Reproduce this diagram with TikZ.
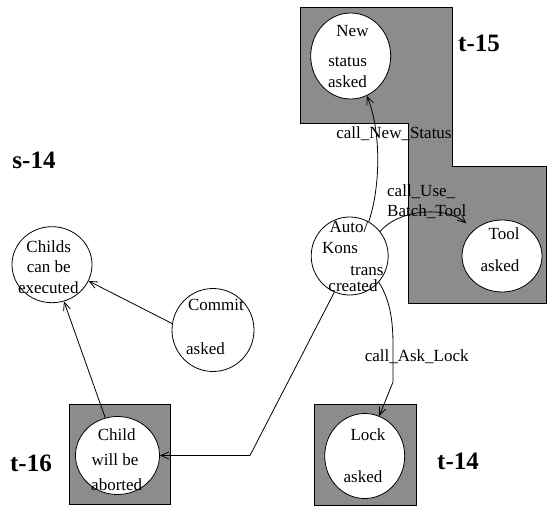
\documentclass[tikz,border=0pt]{standalone}
\usepackage{fontspec}
\setmainfont{Liberation Serif}
\usetikzlibrary{shapes.geometric,arrows.meta}
\definecolor{boxgrey}{RGB}{140,140,140}
\begin{document}
\begin{tikzpicture}[x=1pt,y=-1pt,
  state/.style={ellipse,draw,fill=white,line width=0.8pt,inner sep=0pt},
  txt/.style={font=\fontsize{17}{17}\selectfont,inner sep=0pt},
  big/.style={font=\fontsize{25}{25}\selectfont\bfseries,inner sep=0pt},
  grey/.style={fill=boxgrey,draw=black,line width=0.8pt},
  conn/.style={line width=0.8pt,-{Straight Barb[length=8pt,width=7pt]}}]
\useasboundingbox (0,0) rectangle (547,506);
% grey areas
\draw[grey] (300,7) -- (452,7) -- (452,166) -- (546,166) -- (546,303) -- (408,303) -- (408,123) -- (300,123) -- cycle;
\draw[grey] (69,404) rectangle (170,504);
\draw[grey] (314,404) rectangle (416,505);
% states
\node[state,minimum width=80pt,minimum height=86pt] (new) at (350.7,56) {};
\node[state,minimum width=80pt,minimum height=72pt] (tool) at (502,256) {};
\node[state,minimum width=77pt,minimum height=78pt] (auto) at (349.7,256) {};
\node[state,minimum width=80pt,minimum height=76pt] (childs) at (52,264.7) {};
\node[state,minimum width=82pt,minimum height=83pt] (commit) at (213,330) {};
\node[state,minimum width=84pt,minimum height=78pt] (child) at (117.5,455.5) {};
\node[state,minimum width=80pt,minimum height=85pt] (lock) at (364.7,456) {};
% state texts
\node[txt] (new1) at (352.5,31) {New};
\node[txt] (new2) at (347.7,61.7) {status};
\node[txt] (new3) at (347.5,81.7) {asked};
\node[txt] (tool1) at (504,233.3) {Tool};
\node[txt] (tool2) at (500,266) {asked};
\node[txt] (auto1) at (349,226.7) {Auto/};
\node[txt] (auto2) at (340,247.7) {Kons};
\node[txt] (auto3) at (367,271) {trans};
\node[txt] (auto4) at (353,286) {created};
\node[txt] (childs1) at (48.7,246.7) {Childs};
\node[txt] (childs2) at (48.7,266.7) {can be};
\node[txt] (childs3) at (48.3,287.3) {executed};
\node[txt] (commit1) at (216,305) {Commit};
\node[txt] (commit2) at (205.5,348.3) {asked};
\node[txt] (child1) at (116.7,435) {Child};
\node[txt] (child2) at (115,460) {will be};
\node[txt] (child3) at (116.7,484.3) {aborted};
\node[txt] (lock1) at (368,435) {Lock};
\node[txt] (lock2) at (363,476.7) {asked};
% big labels
\node[big] (s14) at (34,160) {s-14};
\node[big] (t15) at (479,43) {t-15};
\node[big] (t14) at (458,461) {t-14};
\node[big] (t16) at (31,463) {t-16};
% connectors
\draw[conn] (auto.61) .. controls (381,185) and (381,130) .. (new.-68);
\draw[conn,shorten >=10pt] (auto.39) .. controls (398,210) and (445,205) .. (tool.137);
\coordinate (lk1) at (393,382);
\draw[conn] (auto.-42) .. controls (390,300) and (393,320) .. (393,345) -- (lk1) -- (lock.70);
\coordinate (ch1) at (250,455.5);
\draw[conn] (auto.-113) -- (ch1) -- (child.east);
\draw[conn] (child.108) -- (childs.-72);
\draw[conn] (commit.171) -- (childs.-24);
% connector labels
\node[txt] (lnew) at (394,133.3) {call\_New\_Status};
\node[txt,align=left,anchor=west] (luse) at (387,201.7) {call\_Use\_\\[3pt]Batch\_Tool};
\node[txt] (lask) at (416.7,356.7) {call\_Ask\_Lock};
\end{tikzpicture}
\end{document}
